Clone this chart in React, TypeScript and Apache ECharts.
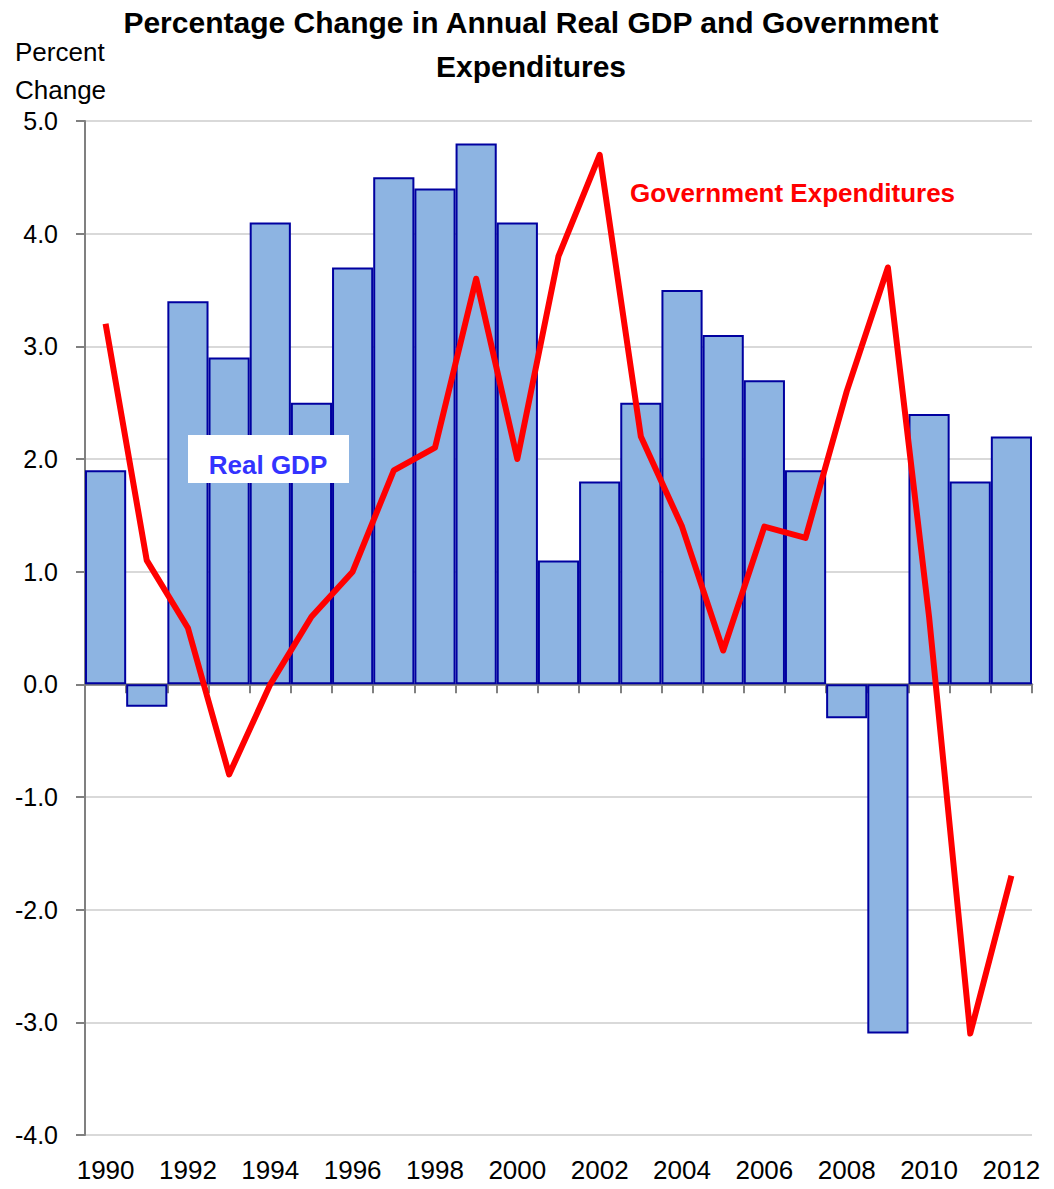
import React, { useEffect, useRef } from "react";
import * as echarts from "echarts";

const years = [
  "1990", "1991", "1992", "1993", "1994", "1995", "1996", "1997", "1998", "1999",
  "2000", "2001", "2002", "2003", "2004", "2005", "2006", "2007", "2008", "2009",
  "2010", "2011", "2012",
];

const realGdp = [
  1.9, -0.2, 3.4, 2.9, 4.1, 2.5, 3.7, 4.5, 4.4, 4.8,
  4.1, 1.1, 1.8, 2.5, 3.5, 3.1, 2.7, 1.9, -0.3, -3.1,
  2.4, 1.8, 2.2,
];

const govExpenditures = [
  3.2, 1.1, 0.5, -0.8, 0.0, 0.6, 1.0, 1.9, 2.1, 3.6,
  2.0, 3.8, 4.7, 2.2, 1.4, 0.3, 1.4, 1.3, 2.6, 3.7,
  0.6, -3.1, -1.7,
];

const yMin = -4;
const yMax = 5;
const yInterval = 1;

const FONT = "'Liberation Sans', Arial, sans-serif";

export default function App() {
  const ref = useRef<HTMLDivElement>(null);

  useEffect(() => {
    if (!ref.current) return;
    const chart = echarts.init(ref.current, undefined, { renderer: "svg" });
    chart.setOption({
      animation: false,
      backgroundColor: "#ffffff",
      textStyle: { fontFamily: FONT },
      grid: { left: 85, right: 22, top: 121, bottom: 54, containLabel: false },
      xAxis: [
        {
          type: "category",
          data: years,
          position: "bottom",
          axisLine: { show: false },
          axisTick: { show: false },
          splitLine: { show: false },
          axisLabel: {
            interval: 1,
            fontSize: 26,
            color: "#000",
            fontFamily: FONT,
            margin: 22,
          },
        },
        {
          type: "category",
          data: years,
          position: "bottom",
          axisLine: {
            show: true,
            onZero: true,
            onZeroAxisIndex: 0,
            lineStyle: { color: "#808080", width: 2.5 },
          },
          axisTick: {
            show: true,
            interval: 0,
            length: 9,
            lineStyle: { color: "#808080", width: 2 },
          },
          axisLabel: { show: false },
          splitLine: { show: false },
        },
      ],
      yAxis: {
        type: "value",
        min: yMin,
        max: yMax,
        interval: yInterval,
        axisLine: { show: true, lineStyle: { color: "#808080", width: 2 } },
        axisTick: { show: true, length: 9, lineStyle: { color: "#808080", width: 2 } },
        splitLine: { show: true, lineStyle: { color: "#D9D9D9", width: 2 } },
        axisLabel: {
          fontSize: 25,
          color: "#000",
          fontFamily: FONT,
          margin: 27,
          formatter: (v: number) => v.toFixed(1),
        },
      },
      series: [
        {
          name: "Real GDP",
          type: "bar",
          data: realGdp,
          xAxisIndex: 0,
          barCategoryGap: "0%",
          itemStyle: { color: "#8DB4E2", borderColor: "#0000A0", borderWidth: 2 },
          z: 2,
        },
        {
          name: "Government Expenditures",
          type: "line",
          data: govExpenditures,
          xAxisIndex: 0,
          symbol: "none",
          lineStyle: { color: "#FF0000", width: 6, join: "round" },
          z: 5,
        },
      ],
      graphic: [
        {
          type: "text",
          x: 531,
          y: 44,
          style: {
            text: "Percentage Change in Annual Real GDP and Government\nExpenditures",
            fontSize: 30,
            fontWeight: "bold",
            fontFamily: FONT,
            fill: "#000",
            align: "center",
            verticalAlign: "middle",
            lineHeight: 44,
          },
        },
        {
          type: "text",
          x: 15,
          y: 33,
          style: {
            text: "Percent\nChange",
            fontSize: 26,
            fontFamily: FONT,
            fill: "#000",
            lineHeight: 38,
          },
        },
        {
          type: "text",
          x: 630,
          y: 193,
          style: {
            text: "Government Expenditures",
            fontSize: 26,
            fontWeight: "bold",
            fontFamily: FONT,
            fill: "#FF0000",
            verticalAlign: "middle",
          },
          z: 10,
        },
        {
          type: "rect",
          shape: { x: 188, y: 435, width: 161, height: 48 },
          style: { fill: "#ffffff" },
          z: 10,
        },
        {
          type: "text",
          x: 268,
          y: 465,
          style: {
            text: "Real GDP",
            fontSize: 26,
            fontWeight: "bold",
            fontFamily: FONT,
            fill: "#3333FF",
            align: "center",
            verticalAlign: "middle",
          },
          z: 11,
        },
      ],
    });
    return () => chart.dispose();
  }, []);

  return (
    <div
      ref={ref}
      style={{ position: "absolute", left: 0, top: 0, width: 1054, height: 1189 }}
    />
  );
}
